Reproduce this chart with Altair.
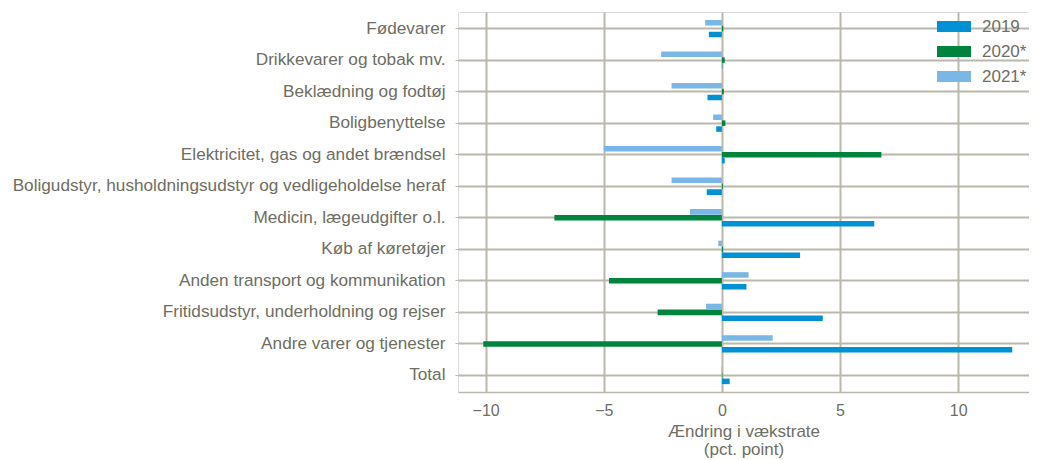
import altair as alt
import pandas as pd

categories = [
    "Fødevarer",
    "Drikkevarer og tobak mv.",
    "Beklædning og fodtøj",
    "Boligbenyttelse",
    "Elektricitet, gas og andet brændsel",
    "Boligudstyr, husholdningsudstyr og vedligeholdelse heraf",
    "Medicin, lægeudgifter o.l.",
    "Køb af køretøjer",
    "Anden transport og kommunikation",
    "Fritidsudstyr, underholdning og rejser",
    "Andre varer og tjenester",
    "Total",
]
series = ["2019", "2020*", "2021*"]
v2019 = [-0.55, 0.02, -0.61, -0.24, 0.12, -0.64, 6.45, 3.31, 1.04, 4.27, 12.29, 0.33]
v2020 = [0.06, 0.12, 0.08, 0.15, 6.75, 0.04, -7.09, 0.05, -4.78, -2.72, -10.1, 0.02]
v2021 = [-0.71, -2.57, -2.13, -0.37, -5.0, -2.13, -1.35, -0.15, 1.13, -0.67, 2.15, -0.02]
colors = ["#0091d5", "#00843d", "#7ab7e6"]

rows = []
for name, vals in zip(series, [v2019, v2020, v2021]):
    for c, v in zip(categories, vals):
        rows.append({"Kategori": c, "Serie": name, "Værdi": v})
df = pd.DataFrame(rows)

text_color = "#6e6e62"
grid_color = "#bab8aa"
font = "Liberation Sans"

chart = alt.Chart(df).mark_bar().encode(
    y=alt.Y("Kategori:N", sort=categories,
            scale=alt.Scale(paddingInner=0.45, paddingOuter=0.25),
            axis=alt.Axis(title=None, labelFontSize=17.2, labelColor=text_color,
                          labelPadding=10, tickSize=3, tickColor=grid_color,
                          domain=False, grid=True, gridColor=grid_color,
                          gridWidth=2, bandPosition=0.5, labelLimit=600,
                          labelFont=font)),
    yOffset=alt.YOffset("Serie:N", sort=["2021*", "2020*", "2019"],
                        scale=alt.Scale(paddingInner=0.06)),
    x=alt.X("Værdi:Q",
            scale=alt.Scale(domain=[-11.17, 13.0], nice=False, zero=False),
            axis=alt.Axis(title=["Ændring i vækstrate", "(pct. point)"],
                          values=[-10, -5, 0, 5, 10], format="d",
                          labelFontSize=16, labelColor=text_color,
                          labelFont=font, labelPadding=10,
                          ticks=False, grid=True, gridColor=grid_color,
                          gridWidth=2, domainColor=grid_color, domainWidth=1.5,
                          titleFontSize=17, titleFontWeight="normal",
                          titleColor=text_color, titleFont=font,
                          titlePadding=5, titleLineHeight=18)),
    color=alt.Color("Serie:N", sort=series,
                    scale=alt.Scale(domain=series, range=colors),
                    legend=alt.Legend(title=None, orient="none", legendX=479,
                                      legendY=-2.5, symbolType="M-1,-0.32H1V0.32H-1Z",
                                      symbolSize=1156, symbolStrokeWidth=0,
                                      labelFontSize=17, labelColor=text_color,
                                      labelFont=font, labelOffset=11,
                                      rowPadding=-2.5)),
).properties(
    width=571, height=380,
    padding={"left": 450, "top": 4, "right": 0, "bottom": 70},
    autosize=alt.AutoSizeParams(type="none"),
).configure_view(
    stroke="#dcdcdc", strokeWidth=1
)

chart.save("out.html", embed_options={"renderer": "svg", "actions": False})
